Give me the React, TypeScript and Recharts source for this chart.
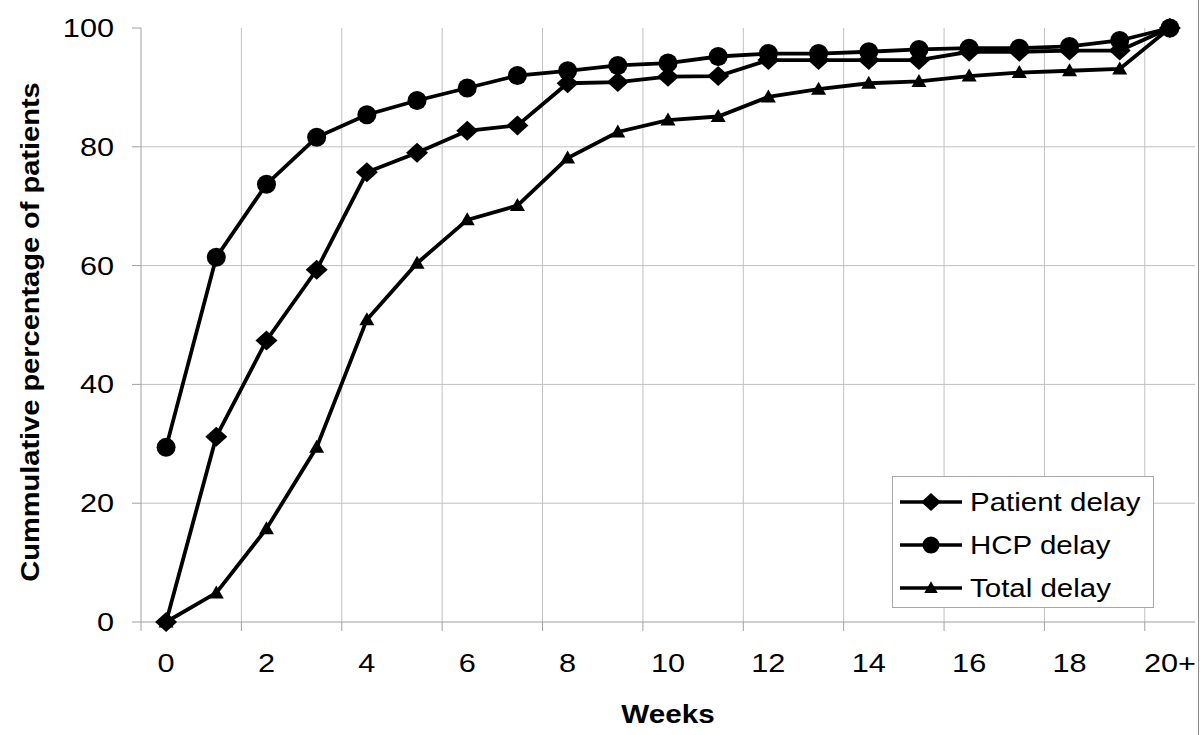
import React from 'react';
import { LineChart, Line, XAxis, YAxis, CartesianGrid, Legend, Label } from 'recharts';

// ---- data ----
const weekLabels = ['0', '1', '2', '3', '4', '5', '6', '7', '8', '9', '10', '11', '12', '13', '14', '15', '16', '17', '18', '19', '20+'];
const patientDelay = [0, 31.2, 47.4, 59.3, 75.7, 79.0, 82.7, 83.6, 90.7, 90.9, 91.8, 91.9, 94.6, 94.6, 94.6, 94.6, 96.0, 96.0, 96.2, 96.2, 100];
const hcpDelay = [29.4, 61.4, 73.7, 81.6, 85.4, 87.8, 89.9, 92.0, 92.8, 93.7, 94.1, 95.2, 95.7, 95.7, 96.0, 96.4, 96.6, 96.6, 96.9, 97.9, 100];
const totalDelay = [0, 4.9, 15.7, 29.4, 50.9, 60.4, 67.7, 70.1, 78.1, 82.5, 84.5, 85.1, 88.4, 89.7, 90.7, 91.0, 91.9, 92.5, 92.8, 93.1, 100];
const yTicks = [0, 20, 40, 60, 80, 100];
const yGridValues = [20, 40, 60, 80];
const labeledWeekIdx = [0, 2, 4, 6, 8, 10, 12, 14, 16, 18, 20];
const boundaryTicks = [-0.5, 1.5, 3.5, 5.5, 7.5, 9.5, 11.5, 13.5, 15.5, 17.5, 19.5];
const gridBoundaries = [1.5, 3.5, 5.5, 7.5, 9.5, 11.5, 13.5, 15.5, 17.5, 19.5];
const legendOrder = ['patient', 'hcp', 'total'];

const data = weekLabels.map((w, i) => ({
  idx: i,
  week: w,
  patient: patientDelay[i],
  hcp: hcpDelay[i],
  total: totalDelay[i],
}));

const xTickValues = [...boundaryTicks, ...labeledWeekIdx].sort((a, b) => a - b);

const FONT = '"Liberation Sans", Arial, sans-serif';
const AXIS = '#a0a0a0';
const GRID = '#c0c0c0';
const STRETCH = 1.18;

const XTick = (props: any) => {
  const { x, y, payload } = props;
  const v = payload.value;
  if (Number.isInteger(v)) {
    return (
      <g transform={`translate(${x},${y + 50}) scale(${STRETCH},1)`}>
        <text x={0} y={0} textAnchor="middle" fontFamily={FONT} fontSize={26} fill="#000">
          {weekLabels[v]}
        </text>
      </g>
    );
  }
  return <line x1={x} x2={x} y1={y} y2={y + 9} stroke={AXIS} strokeWidth={1} />;
};

const YTick = (props: any) => {
  const { x, y, payload } = props;
  return (
    <g transform={`translate(${x},${y}) scale(${STRETCH},1)`}>
      <text x={0} y={0} dy={9} textAnchor="end" fontFamily={FONT} fontSize={26} fill="#000">
        {payload.value}
      </text>
    </g>
  );
};

const Diamond = ({ cx, cy, size = 1 }: any) => (
  <polygon
    points={`${cx},${cy - 10 * size} ${cx + 11 * size},${cy} ${cx},${cy + 10 * size} ${cx - 11 * size},${cy}`}
    fill="#000"
  />
);
const Circle = ({ cx, cy, size = 1 }: any) => <circle cx={cx} cy={cy} r={9.5 * size} fill="#000" />;
const Triangle = ({ cx, cy, size = 1 }: any) => (
  <polygon
    points={`${cx},${cy - 7.5 * size} ${cx + 7.5 * size},${cy + 5.5 * size} ${cx - 7.5 * size},${cy + 5.5 * size}`}
    fill="#000"
  />
);

const shapeFor: Record<string, any> = { patient: Diamond, hcp: Circle, total: Triangle };

const renderLegend = (props: any) => {
  const payload = [...(props.payload || [])].sort(
    (a: any, b: any) => legendOrder.indexOf(a.dataKey) - legendOrder.indexOf(b.dataKey)
  );
  const rows = [26, 69, 112];
  return (
    <div style={{ width: 262, height: 132, border: '1px solid #a8a8a8', background: '#fff', boxSizing: 'border-box' }}>
      <svg width={260} height={130} style={{ display: 'block' }}>
        {payload.map((p: any, i: number) => {
          const Shape = shapeFor[p.dataKey as string];
          const ry = rows[i] - 1;
          return (
            <g key={p.dataKey}>
              <line x1={7} x2={69} y1={ry} y2={ry} stroke="#000" strokeWidth={3.5} />
              <Shape cx={38} cy={ry} size={0.9} />
              <g transform={`translate(77,${ry + 9}) scale(1.18,1)`}>
                <text x={0} y={0} fontFamily={FONT} fontSize={25} fill="#000">
                  {p.value}
                </text>
              </g>
            </g>
          );
        })}
      </svg>
    </div>
  );
};

const YTitle = (props: any) => {
  const vb = props.viewBox || { x: 0, y: 28, width: 141, height: 594 };
  const cx = vb.x + 30;
  const cy = vb.y + vb.height / 2 + 7;
  return (
    <g transform={`translate(${cx},${cy}) rotate(-90) scale(1.16,1)`}>
      <text x={0} y={0} dy={9} textAnchor="middle" fontFamily={FONT} fontWeight="bold" fontSize={25} fill="#000">
        Cummulative percentage of patients
      </text>
    </g>
  );
};

const XTitle = (props: any) => {
  const vb = props.viewBox || { x: 141, y: 622, width: 1054, height: 113 };
  const cx = vb.x + vb.width / 2;
  return (
    <g transform={`translate(${cx},${vb.y + 101}) scale(1.14,1)`}>
      <text x={0} y={0} textAnchor="middle" fontFamily={FONT} fontWeight="bold" fontSize={26} fill="#000">
        Weeks
      </text>
    </g>
  );
};

export default function App() {
  return (
    <div style={{ position: 'absolute', left: 0, top: 0, width: 1198, height: 735, borderRight: '1px solid #8a8a8a', background: '#fff' }}>
      <LineChart width={1198} height={735} data={data} margin={{ top: 28, right: 3, bottom: 0, left: 0 }}>
        <CartesianGrid
          stroke={GRID}
          strokeWidth={1}
          horizontalValues={yGridValues}
          verticalValues={gridBoundaries}
        />
        <XAxis
          dataKey="idx"
          type="number"
          domain={[-0.5, 20.5]}
          ticks={xTickValues}
          interval={0}
          tickLine={false}
          tickSize={0}
          tickMargin={0}
          tick={<XTick />}
          axisLine={{ stroke: AXIS, strokeWidth: 1 }}
          height={113}
        >
          <Label content={<XTitle />} />
        </XAxis>
        <YAxis
          type="number"
          domain={[0, 100]}
          ticks={yTicks}
          interval={0}
          width={141}
          tickSize={9}
          tickMargin={18}
          tickLine={{ stroke: AXIS, strokeWidth: 1 }}
          axisLine={{ stroke: AXIS, strokeWidth: 1 }}
          tick={<YTick />}
        >
          <Label content={<YTitle />} />
        </YAxis>
        <Legend
          layout="vertical"
          align="center"
          verticalAlign="middle"
          content={renderLegend}
          wrapperStyle={{ left: 892, top: 476, width: 262, height: 132 }}
        />
        <Line
          dataKey="patient"
          name="Patient delay"
          stroke="#000"
          strokeWidth={3.8}
          isAnimationActive={false}
          dot={(p: any) => <Diamond key={`pd-${p.index}`} cx={p.cx} cy={p.cy} />}
          activeDot={false}
        />
        <Line
          dataKey="hcp"
          name="HCP delay"
          stroke="#000"
          strokeWidth={3.8}
          isAnimationActive={false}
          dot={(p: any) => <Circle key={`hd-${p.index}`} cx={p.cx} cy={p.cy} />}
          activeDot={false}
        />
        <Line
          dataKey="total"
          name="Total delay"
          stroke="#000"
          strokeWidth={3.8}
          isAnimationActive={false}
          dot={(p: any) => <Triangle key={`td-${p.index}`} cx={p.cx} cy={p.cy} />}
          activeDot={false}
        />
      </LineChart>
    </div>
  );
}
